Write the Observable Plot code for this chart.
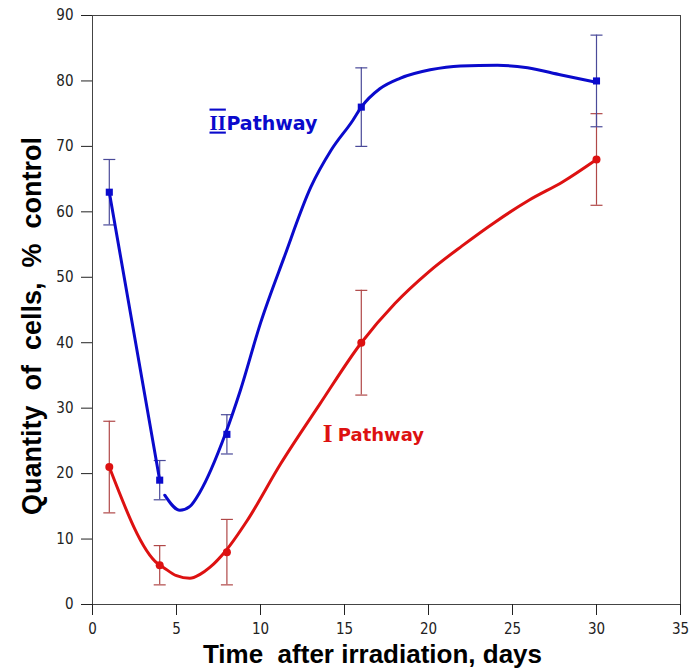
<!DOCTYPE html>
<html><head><meta charset="utf-8">
<script src="https://cdn.jsdelivr.net/npm/d3@7"></script>
<script src="https://cdn.jsdelivr.net/npm/@observablehq/plot@0.6"></script>
<style>body{margin:0;background:#fff}</style>
</head><body><div id="chart"></div>
<script>
// measured points
const days = [1, 4, 8, 16, 30];
const pathway2 = [63, 19, 26, 76, 80];
const pathway2Err = [5, 3, 3, 6, 7];
const pathway1 = [21, 6, 8, 40, 68];
const pathway1Err = [7, 3, 5, 8, 7];

// smoothed curves
const curve2aDays = [1, 4];
const curve2aValues = [63, 19];
const curve2bDays = [4.3, 5.2, 5.8, 6.4, 7.9, 8.8, 10, 11.4, 13, 14.2, 15.5, 16, 17.1, 18.3, 20.1, 21.9, 24.1, 25.9, 27.9, 30];
const curve2bValues = [16.7, 14.4, 15, 17.2, 26, 32.7, 43, 53, 63.8, 69.4, 74, 76, 78.8, 80.4, 81.7, 82.3, 82.4, 82, 80.9, 79.8];
const curve1Days = [1, 3.9, 4.2, 5, 5.8, 6.4, 7, 7.9, 9.2, 11.2, 13.5, 16, 18, 20, 22, 24, 26, 28, 30];
const curve1Values = [21, 6.2, 5.7, 4.4, 4, 4.6, 5.7, 8.1, 12.8, 21.5, 30.5, 40, 46, 50.8, 54.8, 58.5, 61.8, 64.6, 68];

const xTicks = [0, 5, 10, 15, 20, 25, 30, 35];
const yTicks = [0, 10, 20, 30, 40, 50, 60, 70, 80, 90];
const xLabel = "Time  after irradiation, days";
const yLabel = "Quantity  of  cells,  %  control";
const numeralLabels = [{t: "II", x: 7.45, y: 73.6, s: "II"}, {t: "I", x: 14.0, y: 26.1, s: "I"}];
const wordLabels = [{t: "Pathway", x: 7.97, y: 73.5, s: "II"}, {t: "Pathway", x: 14.6, y: 25.8, s: "I"}];

const blue = "#0a0acc", red = "#dd1111";
const blueErr = "#4a4a99", redErr = "#b04848";

const pts2 = days.map((d, i) => ({x: d, y: pathway2[i], e: pathway2Err[i]}));
const pts1 = days.map((d, i) => ({x: d, y: pathway1[i], e: pathway1Err[i]}));
const c2 = [
  ...curve2aDays.map((d, i) => ({x: d, y: curve2aValues[i], z: "a"})),
  ...curve2bDays.map((d, i) => ({x: d, y: curve2bValues[i], z: "b"}))
];
const c1 = curve1Days.map((d, i) => ({x: d, y: curve1Values[i]}));

const cap = {draw(ctx, size) { const w = Math.sqrt(size / Math.PI); ctx.moveTo(-w, 0); ctx.lineTo(w, 0); }};
const tickFont = "'Liberation Sans Narrow', 'DejaVu Sans Condensed', sans-serif";
const labelFont = "'Liberation Sans', Arial, sans-serif";

const chart = Plot.plot({
  width: 691, height: 670,
  marginTop: 15, marginBottom: 66, marginLeft: 92, marginRight: 11,
  style: {background: "#fff"},
  x: {domain: [0, 35], ticks: xTicks},
  y: {domain: [0, 90], ticks: yTicks},
  marks: [
    Plot.frame({stroke: "#444", strokeWidth: 1}),
    Plot.axisX({ticks: xTicks, tickSize: 11, tickPadding: 8, fontSize: 15, fontFamily: tickFont, label: null, color: "#222"}),
    Plot.axisY({ticks: yTicks, tickSize: 11, tickPadding: 8, fontSize: 15, fontFamily: tickFont, label: null, color: "#222"}),
    // error bars
    Plot.ruleX(pts1, {x: "x", y1: d => d.y - d.e, y2: d => d.y + d.e, stroke: redErr, strokeWidth: 1.2}),
    Plot.dot(pts1, {x: "x", y: d => d.y - d.e, symbol: cap, r: 6, stroke: redErr, strokeWidth: 1.2}),
    Plot.dot(pts1, {x: "x", y: d => d.y + d.e, symbol: cap, r: 6, stroke: redErr, strokeWidth: 1.2}),
    Plot.ruleX(pts2, {x: "x", y1: d => d.y - d.e, y2: d => d.y + d.e, stroke: blueErr, strokeWidth: 1.2}),
    Plot.dot(pts2, {x: "x", y: d => d.y - d.e, symbol: cap, r: 6, stroke: blueErr, strokeWidth: 1.2}),
    Plot.dot(pts2, {x: "x", y: d => d.y + d.e, symbol: cap, r: 6, stroke: blueErr, strokeWidth: 1.2}),
    // curves
    Plot.line(c1, {x: "x", y: "y", stroke: red, strokeWidth: 3, curve: "monotone-x"}),
    Plot.line(c2, {x: "x", y: "y", z: "z", stroke: blue, strokeWidth: 3, curve: "monotone-x"}),
    // markers
    Plot.dot(pts1, {x: "x", y: "y", r: 4, fill: red, stroke: "none"}),
    Plot.dot(pts2, {x: "x", y: "y", symbol: "square", r: 4, fill: blue, stroke: "none"}),
    // annotations
    Plot.text(numeralLabels, {x: "x", y: "y", text: "t", textAnchor: "middle", fontFamily: "'Liberation Serif', 'Times New Roman', serif", fontSize: d => d.s === "I" ? 25 : 21, fontWeight: "bold", fill: d => d.s === "I" ? red : blue}),
    Plot.text(wordLabels, {x: "x", y: "y", text: "t", textAnchor: "start", fontFamily: "'DejaVu Sans', Verdana, sans-serif", fontSize: d => d.s === "I" ? 18 : 19, fontWeight: "bold", fill: d => d.s === "I" ? red : blue}),
    Plot.text([xLabel], {frameAnchor: "bottom", dx: -14, dy: 50, lineAnchor: "middle", text: d => d, fontFamily: labelFont, fontSize: 26, fontWeight: "bold", fill: "#000"}),
    Plot.text([yLabel], {frameAnchor: "left", textAnchor: "middle", lineAnchor: "middle", dx: -60, dy: 16, rotate: -90, text: d => d, fontFamily: labelFont, fontSize: 27, fontWeight: "bold", fill: "#000"})
  ]
});
// over/under bars on the Roman numeral II, as in the reference
d3.select(chart).selectAll("text").filter(function() { return this.textContent === "II"; })
  .style("text-decoration", "underline overline");
document.getElementById("chart").appendChild(chart);
</script>
</body></html>
